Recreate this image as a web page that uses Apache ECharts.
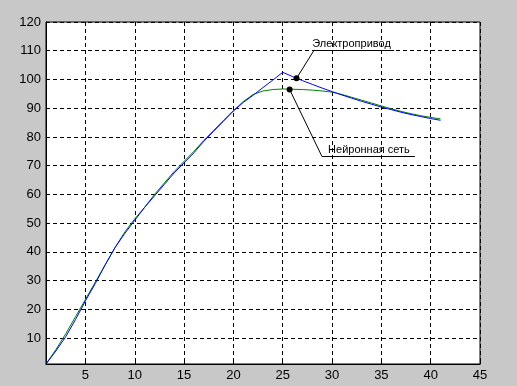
<!DOCTYPE html>
<html><head><meta charset="utf-8">
<script src="https://cdn.jsdelivr.net/npm/echarts@6/dist/echarts.min.js"></script>
<style>html,body{margin:0;padding:0;background:#c8c8c8;}#c{width:517px;height:386px;}</style>
</head><body><div id="c"></div>
<script>
var xValues = [1,2,3,4,5,6,7,8,9,10,11,12,13,14,15,16,17,18,19,20,21,22,23,24,25,26,27,28,29,30,31,32,33,34,35,36,37,38,39,40,41];
var driveValues = [1,5.5,10.5,16.5,23,29,35.5,41.5,46.5,51,55.5,59.5,63.5,67.5,71,74.5,78.5,82,85.5,89,92,94.5,97.2,99.8,102.5,101,99.6,98.3,97,95.8,94.6,93.5,92.4,91.4,90.4,89.5,88.6,87.8,87.1,86.4,85.8];
var neuralValues = [1,6,11.5,17.5,23.5,29.5,35.5,41.5,47,51.5,55.5,60,64,68,71.5,75,78.8,82.3,85.8,89.2,92.3,94.8,96,96.5,96.7,96.6,96.5,96.3,96,95.6,94.8,93.8,92.8,91.8,90.8,89.8,88.9,88.1,87.4,86.8,86.3];
var xTicks = [5,10,15,20,25,30,35,40,45];
var yTicks = [10,20,30,40,50,60,70,80,90,100,110,120];
var driveLabel = 'Электропривод';
var neuralLabel = 'Нейронная сеть';

var chart = echarts.init(document.getElementById('c'));
function pairs(v){ return xValues.map(function(x,i){ return [x, v[i]]; }); }
var blk = {color:'#000', width:1, type:'solid'};
var axisCommon = {
  axisLine:{show:true, lineStyle:{color:'#000', width:1}},
  axisTick:{show:true, inside:true, length:3, lineStyle:{color:'#000'}},
  splitLine:{show:true, lineStyle:{color:'#000', width:1, type:[4,3]}},
  axisLabel:{color:'#000', fontFamily:'Liberation Sans, Arial, sans-serif', fontSize:13}
};
chart.setOption({
  backgroundColor:'#c8c8c8',
  animation:false,
  grid:{left:46, top:22, right:37, bottom:22, show:true, backgroundColor:'#fff', borderColor:'#000', borderWidth:1},
  xAxis:Object.assign({}, axisCommon, {
    type:'value', min:1, max:45,
    axisTick:Object.assign({}, axisCommon.axisTick, {customValues:xTicks}),
    axisLabel:Object.assign({}, axisCommon.axisLabel, {customValues:xTicks, margin:5})
  }),
  yAxis:Object.assign({}, axisCommon, {
    type:'value', min:1, max:120,
    axisTick:Object.assign({}, axisCommon.axisTick, {customValues:yTicks}),
    axisLabel:Object.assign({}, axisCommon.axisLabel, {customValues:yTicks, margin:5})
  }),
  series:[
    {type:'line', name:driveLabel, data:pairs(driveValues), showSymbol:false, lineStyle:{color:'#0000ff', width:1}, z:3,
     markLine:{silent:true, symbol:'none', lineStyle:blk, label:{show:false},
       data:[
         [{coord:[26.4,100.4]},{coord:[28.2,110.3]}],
         [{coord:[28.2,110.3]},{coord:[36.3,110.3]}]
       ]},
     markPoint:{silent:true, data:[
       {coord:[26.4,100.4], symbol:'circle', symbolSize:6, itemStyle:{color:'#000'}, label:{show:false}},
       {coord:[28.0,112.5], symbol:'circle', symbolSize:0, label:{show:true, position:'right', distance:0, formatter:driveLabel, color:'#000', fontSize:11, fontFamily:'Liberation Sans, Arial, sans-serif'}}
     ]}
    },
    {type:'line', name:neuralLabel, data:pairs(neuralValues), showSymbol:false, lineStyle:{color:'#008000', width:1}, z:2,
     markLine:{silent:true, symbol:'none', lineStyle:blk, label:{show:false},
       data:[
         [{coord:[25.7,96.5]},{coord:[28.95,73.4]}],
         [{coord:[28.95,73.4]},{coord:[38.4,73.4]}]
       ]},
     markPoint:{silent:true, data:[
       {coord:[25.7,96.5], symbol:'circle', symbolSize:6, itemStyle:{color:'#000'}, label:{show:false}},
       {coord:[29.6,75.6], symbol:'circle', symbolSize:0, label:{show:true, position:'right', distance:0, formatter:neuralLabel, color:'#000', fontSize:11, fontFamily:'Liberation Sans, Arial, sans-serif'}}
     ]}
    }
  ]
});
</script></body></html>
